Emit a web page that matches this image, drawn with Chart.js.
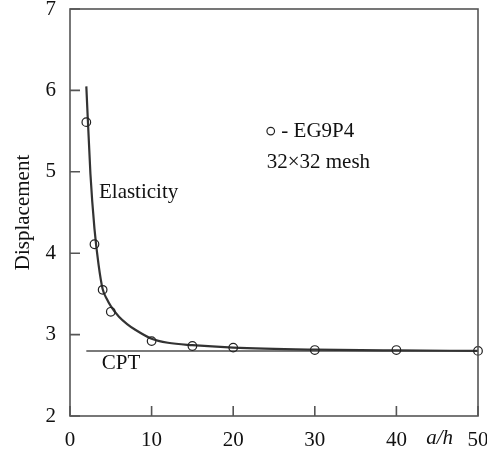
<!DOCTYPE html>
<html><head><meta charset="utf-8">
<script src="https://cdn.jsdelivr.net/npm/chart.js@4/dist/chart.umd.min.js"></script>
<style>html,body{margin:0;padding:0;background:#fff}#wrap{width:487px;height:455px}</style>
</head><body><div id="wrap"><canvas id="c" width="487" height="455"></canvas></div>
<script>
// Elasticity curve
const elasticX = [2, 2.5, 3, 3.5, 4, 4.5, 5, 6, 7, 8, 10, 12, 15, 20, 30, 40, 50];
const elasticY = [6.05, 4.98, 4.30, 3.86, 3.56, 3.44, 3.35, 3.22, 3.13, 3.06, 2.95, 2.90, 2.87, 2.84, 2.815, 2.805, 2.80];
// EG9P4 points
const eg9X = [2, 3, 4, 5, 10, 15, 20, 30, 40, 50];
const eg9Y = [5.61, 4.11, 3.55, 3.28, 2.92, 2.86, 2.84, 2.81, 2.81, 2.80];
// CPT line
const cptX = [2, 50];
const cptY = [2.80, 2.80];
const xTicks = [0, 10, 20, 30, 40, 50];
const yTicks = [2, 3, 4, 5, 6, 7];

const FONT = '"Liberation Serif", "Times New Roman", serif';

const toPts = (xs, ys) => xs.map((x, i) => ({x, y: ys[i]}));

const decor = {
  id: 'decor',
  afterDatasetsDraw(chart) {
    const {ctx, chartArea: a, scales: {x, y}} = chart;
    ctx.save();
    ctx.strokeStyle = '#555';
    ctx.lineWidth = 1.6;
    ctx.strokeRect(a.left, a.top, a.right - a.left, a.bottom - a.top);
    ctx.beginPath();
    xTicks.forEach(v => { const px = x.getPixelForValue(v); ctx.moveTo(px, a.bottom); ctx.lineTo(px, a.bottom - 10); });
    yTicks.forEach(v => { const py = y.getPixelForValue(v); ctx.moveTo(a.left, py); ctx.lineTo(a.left + 10, py); });
    ctx.stroke();
    ctx.fillStyle = '#111';
    ctx.font = '21px ' + FONT;
    ctx.textBaseline = 'middle';
    ctx.textAlign = 'left';
    ctx.fillText('Elasticity', x.getPixelForValue(3.55), y.getPixelForValue(4.74));
    ctx.fillText('CPT', x.getPixelForValue(3.9), y.getPixelForValue(2.64));
    ctx.fillText('- EG9P4', x.getPixelForValue(25.9), y.getPixelForValue(5.50));
    ctx.fillText('32\u00d732 mesh', x.getPixelForValue(24.1), y.getPixelForValue(5.11));
    ctx.beginPath();
    ctx.lineWidth = 1.2;
    ctx.strokeStyle = '#222';
    ctx.arc(x.getPixelForValue(24.6), y.getPixelForValue(5.50), 3.8, 0, Math.PI * 2);
    ctx.stroke();
    ctx.font = 'italic 21px ' + FONT;
    ctx.textAlign = 'center';
    ctx.fillText('a/h', x.getPixelForValue(45.3), a.bottom + 22);
    ctx.restore();
  }
};

new Chart(document.getElementById('c'), {
  type: 'scatter',
  data: {
    datasets: [
      { label: 'CPT', data: toPts(cptX, cptY), showLine: true, borderColor: '#7a7a7a', borderWidth: 2, pointRadius: 0, order: 3 },
      { label: 'Elasticity', data: toPts(elasticX, elasticY), showLine: true, borderColor: '#333', borderWidth: 2.2, pointRadius: 0, cubicInterpolationMode: 'monotone', order: 2 },
      { label: 'EG9P4', data: toPts(eg9X, eg9Y), showLine: false, pointRadius: 4.3, borderColor: '#222', borderWidth: 1.2, backgroundColor: 'rgba(255,255,255,0)', clip: false, order: 1 }
    ]
  },
  options: {
    responsive: false,
    animation: false,
    layout: { padding: { top: 9, right: 9, left: 0, bottom: 0 } },
    plugins: { legend: { display: false }, tooltip: { enabled: false } },
    scales: {
      x: {
        type: 'linear', min: 0, max: 50,
        afterBuildTicks: s => { s.ticks = xTicks.map(v => ({value: v})); },
        afterFit: s => { s.height = 39; s.paddingLeft = 0; s.paddingRight = 0; },
        grid: { display: false, drawTicks: false },
        border: { display: false },
        ticks: { color: '#111', font: { family: FONT, size: 21 }, padding: 12, maxRotation: 0 }
      },
      y: {
        type: 'linear', min: 2, max: 7,
        afterBuildTicks: s => { s.ticks = yTicks.map(v => ({value: v})); },
        afterFit: s => { s.width = 70; s.paddingTop = 0; s.paddingBottom = 0; },
        grid: { display: false, drawTicks: false },
        border: { display: false },
        title: { display: true, text: 'Displacement', color: '#111', font: { family: FONT, size: 21 }, padding: { top: 11, bottom: 4 } },
        ticks: { color: '#111', font: { family: FONT, size: 21 }, padding: 14 }
      }
    }
  },
  plugins: [decor]
});
</script></body></html>
